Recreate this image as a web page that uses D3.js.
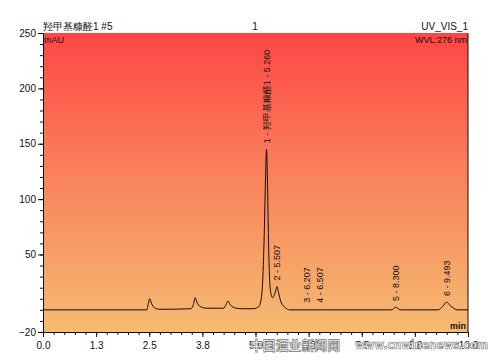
<html>
<head>
<meta charset="utf-8">
<style>
    body { margin: 0; background: #fff; font-family: "Liberation Sans", Arial, sans-serif; }
    .axis text { font-family: "Liberation Sans", Arial, sans-serif; font-size: 10px; fill: #111; }
    .axis path, .axis line { stroke: #111; }
</style>
<script src="https://cdn.jsdelivr.net/npm/d3@7"></script>
</head>
<body>
<div id="chart"></div>
<script>
    // chromatogram trace (time in min, signal in mAU)
    let traceTime = [0, 2.44, 2.48, 2.51, 2.55, 2.62, 2.75, 3.48, 3.54, 3.58, 3.62, 3.7, 3.85, 4.25, 4.31, 4.35, 4.4, 4.5, 4.65,
        4.95, 5.08, 5.15, 5.2, 5.24, 5.26, 5.28, 5.31, 5.35, 5.4, 5.45, 5.48, 5.507, 5.54, 5.6, 5.7, 5.8,
        6.6, 8.2, 8.26, 8.3, 8.34, 8.42, 9.3, 9.4, 9.493, 9.58, 9.68, 9.75, 10];
    let traceSignal = [0, 0, 6, 10, 6, 2, 0.5, 1, 5, 11, 7, 3, 1.5, 1.5, 5, 8, 5, 2, 1,
        1, 3, 15, 60, 125, 145, 120, 55, 18, 11, 14, 18, 21, 16, 7, 2, 0,
        0, 0, 1.5, 2.5, 1.5, 0, 0, 3, 7, 4, 1, 0, 0];

    // integrated peaks
    let peakTimes = [5.260, 5.507, 6.207, 6.507, 8.300, 9.493];
    let peakHeights = [145, 21, 1, 1, 2.5, 7];
    let peakLabels = ["1 - 羟甲基糠醛1 - 5.260", "2 - 5.507", "3 - 6.207", "4 - 6.507", "5 - 8.300", "6 - 9.493"];

    let xTicks = [0, 1.25, 2.5, 3.75, 5, 6.25, 7.5, 8.75, 10];
    let xTickLabels = ["0.0", "1.3", "2.5", "3.8", "5.0", "6.3", "7.5", "8.8", "10.0"];
    let yTicks = [250, 200, 150, 100, 50, -20];

    let width = 500, height = 360;
    let margin = { top: 33, left: 43, right: 32, bottom: 28 };
    let bodyWidth = width - margin.left - margin.right;
    let bodyHeight = height - margin.top - margin.bottom;

    let svg = d3.select("#chart").append("svg")
        .attr("width", width)
        .attr("height", height);

    let grad = svg.append("defs").append("linearGradient")
        .attr("id", "bg").attr("x1", 0).attr("y1", 0).attr("x2", 0).attr("y2", 1);
    grad.append("stop").attr("offset", "0%").attr("stop-color", "#ff4646");
    grad.append("stop").attr("offset", "45%").attr("stop-color", "#fa7f5a");
    grad.append("stop").attr("offset", "100%").attr("stop-color", "#f4bb72");

    let g = svg.append("g").attr("transform", "translate(" + [margin.left, margin.top] + ")");

    let xScale = d3.scaleLinear().domain([0, 10]).range([0, bodyWidth]);
    let yScale = d3.scaleLinear().domain([-20, 250]).range([bodyHeight, 0]);

    g.append("rect")
        .attr("width", bodyWidth)
        .attr("height", bodyHeight)
        .attr("fill", "url(#bg)");

    // minor ticks
    let xMinor = d3.range(0, 10.001, 0.25);
    let yMinor = d3.range(-20, 250.001, 10);
    g.append("g").attr("class", "axis")
        .attr("transform", "translate(0," + bodyHeight + ")")
        .call(d3.axisBottom(xScale).tickValues(xMinor).tickSize(3).tickFormat(""))
        .select(".domain").remove();
    g.append("g").attr("class", "axis")
        .call(d3.axisLeft(yScale).tickValues(yMinor).tickSize(3).tickFormat(""))
        .select(".domain").remove();

    // major axes
    g.append("g").attr("class", "axis")
        .attr("transform", "translate(0," + bodyHeight + ")")
        .call(d3.axisBottom(xScale).tickValues(xTicks).tickSize(5).tickSizeOuter(0)
            .tickFormat((d, i) => xTickLabels[i]))
        .selectAll("text").attr("dy", "0.9em");
    g.append("g").attr("class", "axis")
        .call(d3.axisLeft(yScale).tickValues(yTicks).tickSize(5).tickSizeOuter(0).tickPadding(2));

    // right border
    g.append("line")
        .attr("x1", bodyWidth).attr("x2", bodyWidth)
        .attr("y1", 0).attr("y2", bodyHeight)
        .attr("stroke", "#111");

    // trace
    let points = traceTime.map((t, i) => [t, traceSignal[i]]);
    let line = d3.line()
        .x(d => xScale(d[0]))
        .y(d => yScale(d[1]))
        .curve(d3.curveMonotoneX);
    g.append("path")
        .datum(points)
        .attr("d", line)
        .attr("fill", "none")
        .attr("stroke", "#1a0a05")
        .attr("stroke-width", 1);

    // peak labels
    g.selectAll(".peak-label")
        .data(peakTimes)
        .enter()
        .append("text")
        .attr("class", "peak-label")
        .attr("transform", (d, i) => "translate(" + xScale(d) + "," + (yScale(peakHeights[i]) - 6) + ") rotate(-90)")
        .attr("dy", "0.35em")
        .attr("font-size", "9px")
        .attr("fill", "#111")
        .text((d, i) => peakLabels[i]);

    // header texts
    svg.append("text").attr("x", margin.left).attr("y", 30).text("羟甲基糠醛1 #5")
        .attr("font-size", "10px").attr("fill", "#111");
    svg.append("text").attr("x", 255).attr("y", 30).attr("text-anchor", "middle").text("1")
        .attr("font-size", "10px").attr("fill", "#111");
    svg.append("text").attr("x", margin.left + bodyWidth).attr("y", 30).attr("text-anchor", "end").text("UV_VIS_1")
        .attr("font-size", "10px").attr("fill", "#111");

    g.append("text").attr("x", 1).attr("y", 10).text("mAU")
        .attr("font-size", "9px").attr("fill", "#111");
    g.append("text").attr("x", bodyWidth - 1).attr("y", 10).attr("text-anchor", "end").text("WVL:276 nm")
        .attr("font-size", "9px").attr("fill", "#111");
    g.append("text").attr("x", bodyWidth - 2).attr("y", bodyHeight - 3).attr("text-anchor", "end").text("min")
        .attr("font-size", "9px").attr("font-weight", "bold").attr("fill", "#111");

    // watermark (overlays the axis labels, as in the source picture)
    svg.append("text").attr("x", 250).attr("y", 350).text("中国酒业新闻网")
        .attr("font-family", "Noto Sans CJK SC").attr("font-size", "13px").attr("font-weight", "bold")
        .attr("textLength", 90).attr("lengthAdjust", "spacingAndGlyphs")
        .attr("fill", "#fff").attr("stroke", "#777").attr("stroke-width", 0.7);
    svg.append("text").attr("x", 355).attr("y", 349).text("www.cnwinenews.com")
        .attr("font-family", "DejaVu Sans").attr("font-size", "12px").attr("font-weight", "bold")
        .attr("textLength", 133).attr("lengthAdjust", "spacingAndGlyphs")
        .attr("fill", "#fff").attr("stroke", "#777").attr("stroke-width", 0.7);
</script>
</body>
</html>
